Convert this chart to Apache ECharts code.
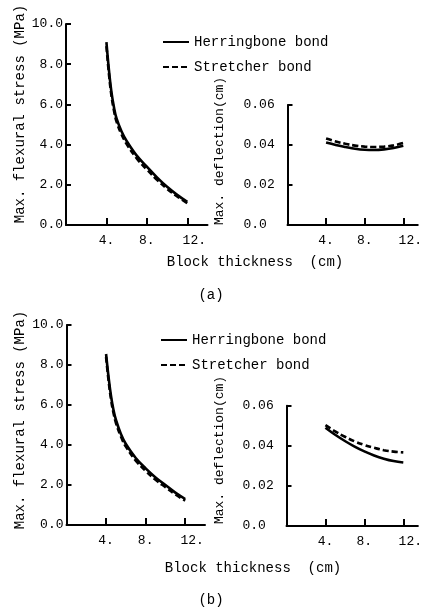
<!DOCTYPE html>
<html>
<head>
<meta charset="utf-8">
<script src="https://cdn.jsdelivr.net/npm/echarts@6/dist/echarts.min.js"></script>
<style>
html,body{margin:0;padding:0;background:#fff;}
#chart{width:425px;height:610px;}
</style>
</head>
<body>
<div id="chart"></div>
<script>
// ---- data ----
var thickStress = [4, 4.25, 4.5, 4.75, 5, 5.5, 6, 7, 8, 9, 10, 11, 12];
var stressA_herring = [9.1, 7.7, 6.6, 5.85, 5.3, 4.65, 4.18, 3.45, 2.9, 2.37, 1.9, 1.5, 1.15];
var stressA_stretch = [8.9, 7.5, 6.42, 5.68, 5.14, 4.5, 4.03, 3.31, 2.76, 2.25, 1.8, 1.42, 1.08];
var stressB_herring = [8.55, 7.4, 6.45, 5.75, 5.25, 4.55, 4.05, 3.35, 2.83, 2.38, 2.0, 1.62, 1.3];
var stressB_stretch = [8.4, 7.22, 6.28, 5.6, 5.1, 4.42, 3.92, 3.22, 2.71, 2.26, 1.89, 1.53, 1.22];

var thickDefl = [4, 5, 6, 7, 8, 9, 10, 11, 12];
var deflA_herring = [0.0412, 0.0400, 0.0390, 0.0381, 0.0376, 0.0375, 0.0378, 0.0385, 0.0396];
var deflA_stretch = [0.0432, 0.0418, 0.0406, 0.0397, 0.0392, 0.0390, 0.0392, 0.0398, 0.0410];
var deflB_herring = [0.0490, 0.0455, 0.0424, 0.0396, 0.0372, 0.0352, 0.0336, 0.0324, 0.0317];
var deflB_stretch = [0.0503, 0.0472, 0.0445, 0.0422, 0.0404, 0.0390, 0.0378, 0.0371, 0.0367];

var xTicks = [4, 8, 12];
var seriesNames = ['Herringbone bond', 'Stretcher bond'];
var stressAxisTitle = 'Max. flexural stress (MPa)';
var deflAxisTitle = 'Max. deflection(cm)';
var xAxisTitle = 'Block thickness  (cm)';
var panelLabels = ['(a)', '(b)'];

// ---- helpers ----
function pairs(xs, ys) { return xs.map(function (x, i) { return [x, ys[i]]; }); }
var FONT = 'Liberation Mono';
var axisLineStyle = { color: '#000', width: 2 };

function xAxisCfg(gi) {
  return {
    gridIndex: gi, type: 'value', min: 0, max: gi % 2 === 0 ? 14 : 13.5,
    axisLine: { show: true, onZero: false, lineStyle: axisLineStyle },
    axisTick: { show: true, inside: true, length: 7, lineStyle: { color: '#000', width: 2 }, customValues: xTicks },
    axisLabel: {
      color: '#000', fontFamily: FONT, fontSize: 13, margin: 9,
      customValues: xTicks,
      formatter: function (v) { return v === 12 ? '{w|12.}' : v + '.'; },
      rich: { w: { fontFamily: FONT, fontSize: 13, color: '#000', padding: [0, 0, 0, 14] } }
    },
    splitLine: { show: false }
  };
}
function yStressCfg(gi) {
  return {
    gridIndex: gi, type: 'value', min: 0, max: 10, interval: 2,
    axisLine: { show: true, lineStyle: axisLineStyle },
    axisTick: { show: true, inside: true, length: 5, lineStyle: { color: '#000', width: 2 } },
    axisLabel: { color: '#000', fontFamily: FONT, fontSize: 13, margin: 3,
      formatter: function (v) { return v.toFixed(1); } },
    splitLine: { show: false }
  };
}
function yDeflCfg(gi) {
  return {
    gridIndex: gi, type: 'value', min: 0, max: 0.06, interval: 0.02,
    axisLine: { show: true, lineStyle: axisLineStyle },
    axisTick: { show: true, inside: true, length: 5, lineStyle: { color: '#000', width: 2 } },
    axisLabel: { color: '#000', fontFamily: FONT, fontSize: 13, margin: 44, align: 'left',
      formatter: function (v) { return v === 0 ? '0.0' : v.toFixed(2); } },
    splitLine: { show: false }
  };
}
function lineSeries(name, gi, xs, ys, dashed) {
  return {
    name: name, type: 'line', xAxisIndex: gi, yAxisIndex: gi,
    data: pairs(xs, ys), smooth: 0.4, symbol: 'none',
    lineStyle: { color: '#000', width: 2.6, type: dashed ? [6, 3] : 'solid' },
    itemStyle: { color: '#000' }, silent: true
  };
}
function txt(x, y, text, size, rot) {
  return {
    type: 'text', x: x, y: y, rotation: rot || 0,
    style: { text: text, fill: '#000', font: size + 'px "' + FONT + '"', align: 'center', verticalAlign: 'middle' },
    silent: true
  };
}
function legendCfg(left, top) {
  return {
    data: seriesNames, orient: 'vertical', left: left, top: top, padding: 0,
    itemWidth: 26, itemHeight: 14, itemGap: 11,
    itemStyle: { opacity: 0, color: 'transparent', borderWidth: 0 },
    textStyle: { color: '#000', fontFamily: FONT, fontSize: 14 }, selectedMode: false
  };
}

var option = {
  animation: false,
  backgroundColor: '#fff',
  grid: [
    { left: 66, top: 24, width: 141.5, height: 201 },
    { left: 287.5, top: 105, width: 136, height: 120 },
    { left: 66.5, top: 325, width: 138.5, height: 200 },
    { left: 286.5, top: 405.7, width: 136, height: 120.3 }
  ],
  xAxis: [xAxisCfg(0), xAxisCfg(1), xAxisCfg(2), xAxisCfg(3)],
  yAxis: [yStressCfg(0), yDeflCfg(1), yStressCfg(2), yDeflCfg(3)],
  legend: [legendCfg(162, 35), legendCfg(160, 333)],
  series: [
    lineSeries(seriesNames[0], 0, thickStress, stressA_herring, false),
    lineSeries(seriesNames[1], 0, thickStress, stressA_stretch, true),
    lineSeries(seriesNames[0], 1, thickDefl, deflA_herring, false),
    lineSeries(seriesNames[1], 1, thickDefl, deflA_stretch, true),
    lineSeries(seriesNames[0], 2, thickStress, stressB_herring, false),
    lineSeries(seriesNames[1], 2, thickStress, stressB_stretch, true),
    lineSeries(seriesNames[0], 3, thickDefl, deflB_herring, false),
    lineSeries(seriesNames[1], 3, thickDefl, deflB_stretch, true)
  ],
  graphic: [
    txt(20, 114, stressAxisTitle, 14, Math.PI / 2),
    txt(220, 151, deflAxisTitle, 13, Math.PI / 2),
    txt(255, 262, xAxisTitle, 14),
    txt(211, 295, panelLabels[0], 14),
    txt(20, 420, stressAxisTitle, 14, Math.PI / 2),
    txt(220, 450, deflAxisTitle, 13, Math.PI / 2),
    txt(253, 568, xAxisTitle, 14),
    txt(211, 600, panelLabels[1], 14)
  ]
};
var chart = echarts.init(document.getElementById('chart'), null, { renderer: 'canvas' });
chart.setOption(option);
</script>
</body>
</html>
